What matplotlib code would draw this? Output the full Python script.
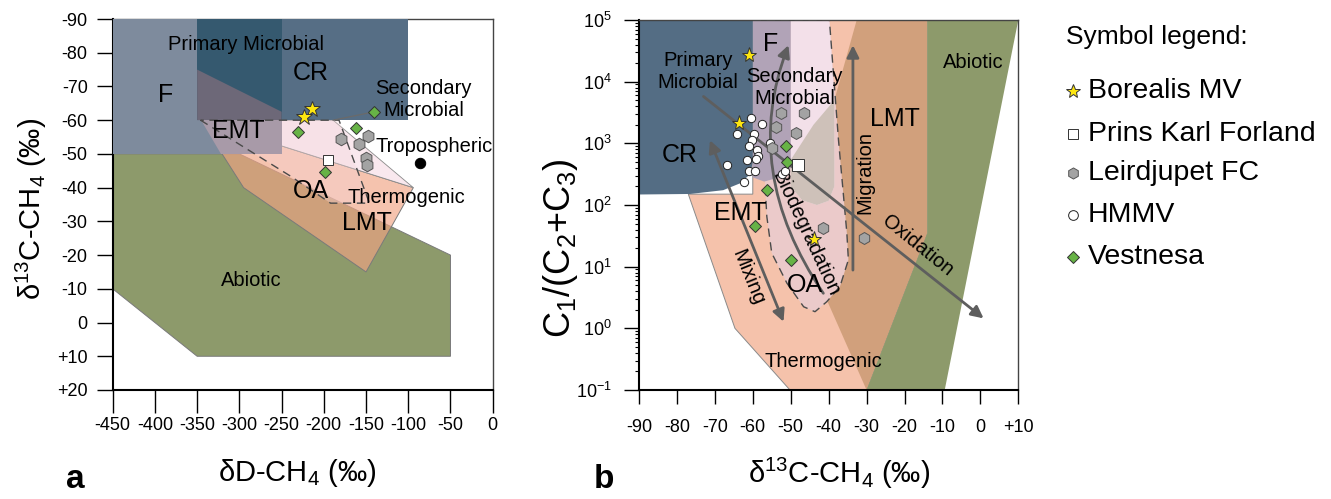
import numpy as np
import matplotlib
matplotlib.use("Agg")
import matplotlib.pyplot as plt
from matplotlib.patches import Polygon, FancyArrowPatch
from matplotlib.path import Path
from matplotlib.ticker import FixedLocator, LogLocator, NullFormatter

plt.rcParams["font.family"] = ["Liberation Sans", "DejaVu Sans"]
plt.rcParams["mathtext.fontset"] = "custom"
plt.rcParams["mathtext.rm"] = "Liberation Sans"
plt.rcParams["mathtext.it"] = "Liberation Sans:italic"
plt.rcParams["mathtext.bf"] = "Liberation Sans:bold"

# ---------------- panel a data (dD-CH4 vs d13C-CH4) ----------------
a_xticks = [-450, -400, -350, -300, -250, -200, -150, -100, -50, 0]
a_xlabels = ["-450", "-400", "-350", "-300", "-250", "-200", "-150", "-100", "-50", "0"]
a_yticks = [-90, -80, -70, -60, -50, -40, -30, -20, -10, 0, 10, 20]
a_ylabels = ["-90", "-80", "-70", "-60", "-50", "-40", "-30", "-20", "-10", "0", "+10", "+20"]

a_abiotic = [(-450, -50), (-300, -50), (-50, -20), (-50, 10), (-350, 10), (-450, -10)]
a_thermo = [(-346, -60), (-94, -40), (-150, -15), (-295, -40)]
a_sm_tri = [(-346, -60), (-189, -60), (-94, -40)]
a_oa = [(-346, -60), (-240, -43.5), (-192, -35.4), (-146, -35.4), (-182, -60)]
a_f = [(-450, -90), (-250, -90), (-250, -50), (-450, -50)]
a_cr = [(-350, -90), (-100, -90), (-100, -60), (-350, -60)]
a_f_cr = [(-350, -90), (-250, -90), (-250, -60), (-350, -60)]
a_wedge = [(-350, -75), (-250, -62.5), (-250, -60), (-350, -60)]
a_emt = [(-346, -60), (-250, -60), (-250, -50), (-322, -50)]
a_leader = [(-189, -60), (-140, -62.5)]

a_borealis_dD = [-214, -223]
a_borealis_c = [-63.3, -61.0]
a_pkf_dD = [-195]
a_pkf_c = [-48.2]
a_leird_dD = [-180, -148, -158, -150, -148.5]
a_leird_c = [-54.3, -55.3, -52.8, -48.7, -46.7]
a_vest_dD = [-140.6, -230, -162, -198.6]
a_vest_c = [-62.5, -56.4, -57.6, -44.5]
a_tropo_dD = [-86]
a_tropo_c = [-47.4]

# ---------------- panel b data (d13C-CH4 vs C1/(C2+C3)) ----------------
b_xticks = [-90, -80, -70, -60, -50, -40, -30, -20, -10, 0, 10]
b_xlabels = ["-90", "-80", "-70", "-60", "-50", "-40", "-30", "-20", "-10", "0", "+10"]
b_yticks = [0.1, 1, 10, 100, 1000, 10000, 100000]
b_ylabels = ["10$^{-1}$", "10$^{0}$", "10$^{1}$", "10$^{2}$", "10$^{3}$", "10$^{4}$", "10$^{5}$"]

b_thermo = [(-77, 150), (-64.7, 1.0), (-50.2, 0.1), (-30, 0.1), (-14, 35), (-14, 1e5), (-60, 1e5), (-60, 150)]
b_lmt = [(-32.6, 1e5), (-14, 1e5), (-14, 35), (-30, 0.1), (-40.5, 2.9), (-47, 20), (-50.2, 200),
         (-50.2, 540), (-38.5, 5000)]
b_abiotic = [(-14, 1e5), (10, 1e5), (-9.4, 0.1), (-30, 0.1), (-14, 35)]
b_oa = [(-60, 1e5), (-39.8, 1e5), (-37.4, 1120), (-35.2, 35), (-34.8, 12.9), (-37, 4.8), (-40.5, 2.7),
        (-43.6, 1.86), (-46.6, 2.24), (-51, 5.4), (-55, 16.6), (-56.3, 65), (-56.8, 240), (-60, 400)]
b_sm = [(-50, 1e5), (-39.8, 1e5), (-38.5, 5000), (-38.5, 200), (-40, 117), (-43.1, 100), (-47, 120), (-50, 200)]
b_lobe = [(-38.5, 5000), (-38.5, 200), (-40, 117), (-43.1, 100), (-47, 120), (-50, 200), (-50, 540), (-44, 2000)]
b_f = [(-60, 1e5), (-50, 1e5), (-50, 400), (-53, 280), (-57, 240), (-60, 280)]
b_cr = [(-90, 1e5), (-60, 1e5), (-60, 500), (-60.6, 320), (-63.4, 224), (-67.8, 174), (-76.5, 151), (-90, 148)]

# process arrows: start, end (and control point for the curved one)
b_mixing = [(-71.3, 1120), (-51.9, 1.28)]
b_migration = [(-33.6, 8.8), (-33.6, 39000)]
b_oxidation = [(-73, 5750), (0.85, 1.45)]
b_biodeg = [(-41.4, 3.7), (-63.3, 355), (-50.6, 39000)]

b_borealis_c = [-60.9, -63.6, -43.8]
b_borealis_r = [27000, 2100, 28]
b_pkf_c = [-48.0]
b_pkf_r = [450]
b_leird_c = [-52.6, -46.6, -53.9, -48.6, -55.0, -41.4, -30.6]
b_leird_r = [3100, 3100, 1860, 1480, 830, 42, 29]
b_hmmv_c = [-60.5, -57.5, -64.1, -59.6, -60.1, -60.9, -58.9, -58.5, -61.4, -59.2, -66.9, -61.0,
            -59.4, -62.3, -55.4, -52.4, -51.5]
b_hmmv_r = [2570, 2090, 1410, 1410, 1120, 910, 790, 630, 540, 550, 440, 360, 360, 240, 1000, 320, 350]
b_vest_c = [-51.2, -51.0, -56.3, -59.4, -50.0]
b_vest_r = [890, 490, 174, 46, 12.6]

legend_labels = ["Borealis MV", "Prins Karl Forland", "Leirdjupet FC", "HMMV", "Vestnesa"]

# colours
c_green = "#8d9a6b"
c_salmon = "#f5c2ab"
c_brown = "#d1a07c"
c_f = "#7e8b9d"
c_cr = "#566e85"
c_fcr = "#35596f"
c_star = "#fde610"
c_diam = "#67b346"
c_hex = "#a3a3a3"
c_arrow = "#5e5e5e"

BIG = 18
SMALL = 14.5


def add_poly(ax, verts, fc, z, alpha=1.0, ec="none", lw=0.0):
    ax.add_patch(Polygon(verts, closed=True, facecolor=fc, edgecolor=ec, lw=lw, alpha=alpha, zorder=z))


def draw_markers(ax, sets):
    for xs, ys, m, ms, fc, ec in sets:
        ax.plot(xs, ys, ls="none", marker=m, ms=ms, mfc=fc, mec=ec, mew=0.7, zorder=6)


fig = plt.figure(figsize=(13.31, 4.99), dpi=100)
ax1 = fig.add_axes([112.7 / 1331, 109 / 499, 380 / 1331, 371 / 499])
ax2 = fig.add_axes([639 / 1331, 109 / 499, 379.3 / 1331, 370 / 499])

# ---------------- panel a ----------------
add_poly(ax1, a_abiotic, c_green, 1, ec="#7a7a7a", lw=0.7)
add_poly(ax1, a_thermo, "#f0a484", 2, alpha=0.66)
ax1.add_patch(Polygon(a_thermo, closed=True, fill=False, edgecolor="#7a7a7a", lw=0.7, zorder=2.1))
add_poly(ax1, a_sm_tri, "#f9e8ee", 2.2, ec="#8a8a8a", lw=0.6)
add_poly(ax1, a_oa, "#f6d6da", 2.3, alpha=0.35)
add_poly(ax1, a_f, c_f, 3)
add_poly(ax1, a_cr, c_cr, 3.1)
add_poly(ax1, a_f_cr, c_fcr, 3.2)
add_poly(ax1, a_wedge, "#6d6878", 3.3)
add_poly(ax1, a_emt, "#a89aa8", 3.3)
oa_x = [p[0] for p in a_oa] + [a_oa[0][0]]
oa_y = [p[1] for p in a_oa] + [a_oa[0][1]]
ax1.plot(oa_x, oa_y, color="#4a4a4a", lw=1.0, ls=(0, (6, 4)), zorder=4)
ax1.plot([p[0] for p in a_leader], [p[1] for p in a_leader], color="#6a6a6a", lw=0.9, zorder=4)

a_texts = [
    ("Primary Microbial", -292, -82.3, SMALL),
    ("CR", -215.5, -73.9, BIG),
    ("F", -387, -67.5, BIG),
    ("Secondary\nMicrobial", -82, -66.2, SMALL),
    ("EMT", -301, -56.8, BIG),
    ("Tropospheric", -69, -52.1, SMALL),
    ("OA", -215.5, -39.1, BIG),
    ("Thermogenic", -102.7, -37.1, SMALL),
    ("LMT", -149, -29.4, BIG),
    ("Abiotic", -285.4, -12.6, SMALL),
]
for s, x, y, fs in a_texts:
    ax1.text(x, y, s, fontsize=fs, ha="center", va="center", zorder=5, linespacing=1.2)

draw_markers(ax1, [
    (a_leird_dD, a_leird_c, "h", 9, c_hex, "#555555"),
    (a_vest_dD, a_vest_c, "D", 6.6, c_diam, "#333333"),
    (a_pkf_dD, a_pkf_c, "s", 7.2, "white", "#333333"),
    (a_borealis_dD, a_borealis_c, "*", 12, c_star, "#333333"),
    (a_tropo_dD, a_tropo_c, "o", 7.5, "black", "black"),
])

ax1.set_xlim(-450, 0)
ax1.set_ylim(20, -90)
ax1.xaxis.set_major_locator(FixedLocator(a_xticks))
ax1.set_xticklabels(a_xlabels)
ax1.yaxis.set_major_locator(FixedLocator(a_yticks))
ax1.set_yticklabels(a_ylabels)
ax1.tick_params(axis="x", length=16.5, width=1.0, pad=3, labelsize=13)
ax1.tick_params(axis="y", length=11.5, width=1.0, pad=6.5, labelsize=13)

# ---------------- panel b ----------------
add_poly(ax2, b_thermo, c_salmon, 1, ec="#8a8a8a", lw=0.7)
add_poly(ax2, b_lmt, c_brown, 1.1)
add_poly(ax2, b_abiotic, c_green, 1.2)
add_poly(ax2, b_oa, "#ebcaca", 2)
add_poly(ax2, b_sm, "#f3e0e9", 2.1)
add_poly(ax2, b_lobe, "#cec1b9", 2.2)
add_poly(ax2, b_f, "#b1a3b7", 2.3)
add_poly(ax2, b_cr, "#546d84", 2.4)
ax2.plot([p[0] for p in b_oa[:-1]], [p[1] for p in b_oa[:-1]],
         color="#4a4a4a", lw=1.0, ls=(0, (6, 4)), zorder=3)

arrow_kw = dict(color=c_arrow, lw=2.0, shrinkA=0, shrinkB=0, mutation_scale=18)
ax2.annotate("", xy=b_mixing[1], xytext=b_mixing[0],
             arrowprops=dict(arrowstyle="<|-|>", **arrow_kw), zorder=4)
ax2.annotate("", xy=b_migration[1], xytext=b_migration[0],
             arrowprops=dict(arrowstyle="-|>", **arrow_kw), zorder=4)
ax2.annotate("", xy=b_oxidation[1], xytext=b_oxidation[0],
             arrowprops=dict(arrowstyle="-|>", **arrow_kw), zorder=4)
bio_path = Path(b_biodeg, [Path.MOVETO, Path.CURVE3, Path.CURVE3])
ax2.add_patch(FancyArrowPatch(path=bio_path, arrowstyle="-|>", transform=ax2.transData,
                              zorder=4, **arrow_kw))

b_texts = [
    ("Primary\nMicrobial", -74.5, 14500, SMALL, 0),
    ("F", -55.4, 40700, BIG, 0),
    ("Secondary\nMicrobial", -49, 8100, SMALL, 0),
    ("CR", -79.2, 645, BIG, 0),
    ("EMT", -63.4, 74, BIG, 0),
    ("OA", -46.2, 5.0, BIG, 0),
    ("LMT", -22.5, 2450, BIG, 0),
    ("Abiotic", -1.8, 20400, SMALL, 0),
    ("Thermogenic", -41.4, 0.29, SMALL, 0),
    ("Mixing", -61.2, 6.7, SMALL, -68),
    ("Biodegradation", -46.0, 34, SMALL, -65),
    ("Migration", -30.4, 340, SMALL, 90),
    ("Oxidation", -16.5, 22, SMALL, -39),
]
for s, x, y, fs, rot in b_texts:
    ax2.text(x, y, s, fontsize=fs, ha="center", va="center", rotation=rot,
             rotation_mode="anchor", zorder=5, linespacing=1.2)

draw_markers(ax2, [
    (b_hmmv_c, b_hmmv_r, "o", 6, "white", "#222222"),
    (b_leird_c, b_leird_r, "h", 8.6, c_hex, "#555555"),
    (b_vest_c, b_vest_r, "D", 6, c_diam, "#333333"),
    (b_pkf_c, b_pkf_r, "s", 8, "white", "#333333"),
    (b_borealis_c, b_borealis_r, "*", 11, c_star, "#333333"),
])

ax2.set_yscale("log")
ax2.set_xlim(-90, 10)
ax2.set_ylim(0.1, 1e5)
ax2.xaxis.set_major_locator(FixedLocator(b_xticks))
ax2.set_xticklabels(b_xlabels)
ax2.yaxis.set_major_locator(FixedLocator(b_yticks))
ax2.set_yticklabels(b_ylabels)
ax2.yaxis.set_minor_locator(LogLocator(base=10, subs=np.arange(2, 10)))
ax2.yaxis.set_minor_formatter(NullFormatter())
ax2.tick_params(axis="x", length=10, width=1.0, pad=11, labelsize=13)
ax2.tick_params(axis="y", which="major", length=10.8, width=1.0, pad=8.6, labelsize=13)
ax2.tick_params(axis="y", which="minor", length=3, width=0.8)

for ax in (ax1, ax2):
    ax.spines["left"].set_linewidth(1.5)
    ax.spines["bottom"].set_linewidth(1.5)
    ax.spines["top"].set_linewidth(1.0)
    ax.spines["right"].set_linewidth(1.0)
    ax.spines["top"].set_color("#444444")
    ax.spines["right"].set_color("#444444")

# axis labels and panel letters
fig.text(31 / 1331, 1 - 209 / 499, "δ$^{13}$C-CH$_4$ (‰)", rotation=90, fontsize=21, ha="center", va="center")
fig.text(560 / 1331, 1 - 248 / 499, "C$_1$/(C$_2$+C$_3$)", rotation=90, fontsize=26, ha="center", va="center")
fig.text(297 / 1331, 1 - 473 / 499, "δD-CH$_4$ (‰)", fontsize=21, ha="center", va="center")
fig.text(839 / 1331, 1 - 473 / 499, "δ$^{13}$C-CH$_4$ (‰)", fontsize=21, ha="center", va="center")
fig.text(75 / 1331, 1 - 479 / 499, "a", fontsize=24, fontweight="bold", ha="center", va="center")
fig.text(604 / 1331, 1 - 479 / 499, "b", fontsize=24, fontweight="bold", ha="center", va="center")

# symbol legend, drawn in figure pixel coordinates
leg = fig.add_axes([0, 0, 1, 1], facecolor="none")
leg.set_xlim(0, 1331)
leg.set_ylim(499, 0)
leg.axis("off")
leg_y = [90.5, 134, 173, 215, 257]
leg_marks = [("*", 10, c_star, "#333333"), ("s", 7, "white", "#333333"), ("h", 8, c_hex, "#555555"),
             ("o", 7, "white", "#222222"), ("D", 6, c_diam, "#333333")]
leg.text(1066, 37, "Symbol legend:", fontsize=19, ha="left", va="center")
for yy, lab, (m, ms, fc, ec) in zip(leg_y, legend_labels, leg_marks):
    leg.plot([1073], [yy], ls="none", marker=m, ms=ms, mfc=fc, mec=ec, mew=0.7)
    leg.text(1088, yy, lab, fontsize=20.5, ha="left", va="center")

fig.savefig("out.png", dpi=100)
